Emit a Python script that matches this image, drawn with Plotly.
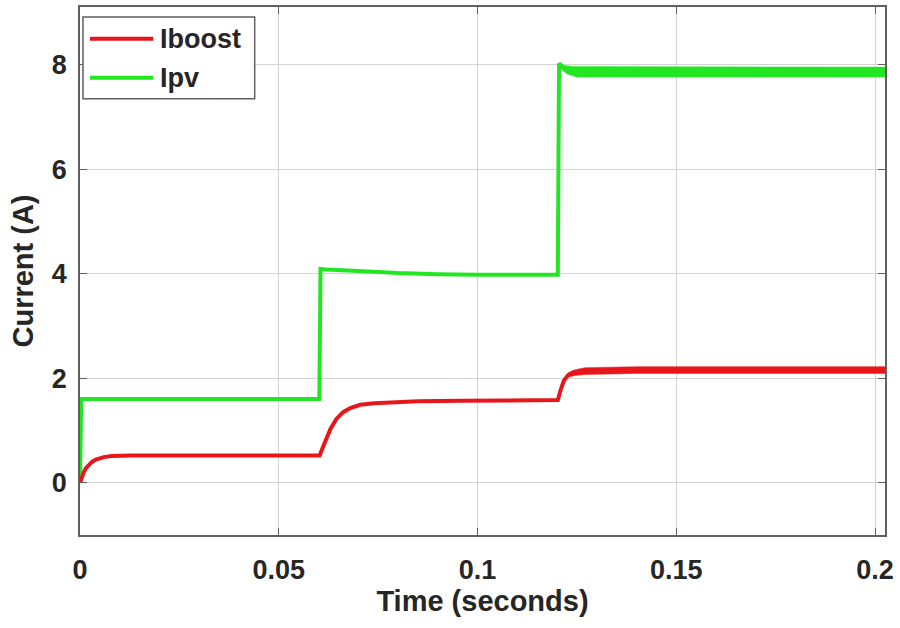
import plotly.graph_objects as go

# ---- data (time in s, current in A) ----
t_pv = [0.0, 0.0003, 0.0006, 0.0300, 0.0602, 0.0605, 0.0620, 0.0700, 0.0800, 0.0900, 0.1000, 0.1202,
        0.1205, 0.1215, 0.1230, 0.1250, 0.1600, 0.2030]
i_pv = [0.0, 1.60, 1.60, 1.60, 1.60, 4.09, 4.08, 4.05, 4.01, 3.99, 3.98, 3.98,
        8.02, 7.95, 7.88, 7.86, 7.86, 7.86]

# switching-ripple envelope of Ipv after the last step (upper edge then lower edge, back)
t_pv_env = [0.1205, 0.1220, 0.1240, 0.1600, 0.2030, 0.2030, 0.1600, 0.1250, 0.1225, 0.1210]
i_pv_env = [8.03, 7.98, 7.96, 7.95, 7.95, 7.76, 7.76, 7.76, 7.82, 7.92]

t_boost = [0.0, 0.0005, 0.0010, 0.0015, 0.0020, 0.0030, 0.0040, 0.0050, 0.0060, 0.0080, 0.0100, 0.0130,
           0.0200, 0.0400, 0.0603, 0.0610, 0.0620, 0.0630, 0.0645, 0.0662, 0.0680, 0.0705, 0.0740,
           0.0780, 0.0850, 0.0960, 0.1100, 0.1202, 0.1208, 0.1217, 0.1228, 0.1240, 0.1260, 0.1300,
           0.1400, 0.2030]
i_boost = [0.0, 0.12, 0.21, 0.28, 0.33, 0.40, 0.44, 0.47, 0.49, 0.51, 0.515, 0.52,
           0.52, 0.52, 0.52, 0.66, 0.86, 1.03, 1.22, 1.35, 1.43, 1.49, 1.52,
           1.54, 1.56, 1.57, 1.57, 1.58, 1.75, 1.95, 2.06, 2.11, 2.13, 2.15,
           2.16, 2.16]

# switching-ripple envelope of Iboost after the last step
t_boost_env = [0.1228, 0.1245, 0.1270, 0.1400, 0.2030, 0.2030, 0.1400, 0.1270, 0.1245, 0.1228]
i_boost_env = [2.10, 2.16, 2.20, 2.22, 2.22, 2.09, 2.09, 2.07, 2.05, 2.02]

x_ticks = [0, 0.05, 0.1, 0.15, 0.2]
x_tick_labels = ["0", "0.05", "0.1", "0.15", "0.2"]
y_ticks = [0, 2, 4, 6, 8]
y_tick_labels = ["0", "2", "4", "6", "8"]
series_names = ["Iboost", "Ipv"]

RED = "#e8161b"
GREEN = "#22e622"
TXT = "#262626"
FRAME = "#606060"
FONT = "Liberation Sans, Arial, sans-serif"

fig = go.Figure()
fig.add_trace(go.Scatter(x=t_pv_env, y=i_pv_env, mode="lines", fill="toself", fillcolor=GREEN,
                         line=dict(color=GREEN, width=0.5), showlegend=False, hoverinfo="skip"))
fig.add_trace(go.Scatter(x=t_pv, y=i_pv, mode="lines", name=series_names[1],
                         line=dict(color=GREEN, width=4), showlegend=False))
fig.add_trace(go.Scatter(x=t_boost_env, y=i_boost_env, mode="lines", fill="toself", fillcolor=RED,
                         line=dict(color=RED, width=0.5), showlegend=False, hoverinfo="skip"))
fig.add_trace(go.Scatter(x=t_boost, y=i_boost, mode="lines", name=series_names[0],
                         line=dict(color=RED, width=4), showlegend=False))

axis_common = dict(
    showgrid=True, gridcolor="#d4d4d4", gridwidth=1,
    zeroline=False, showline=True, linecolor=FRAME, linewidth=1.5,
    mirror="ticks", ticks="inside", ticklen=7, tickcolor=FRAME,
    tickfont=dict(family=FONT, size=27, color=TXT),
)

# hand-built MATLAB-style legend box (paper coords = plot area)
legend_box = dict(type="rect", xref="paper", yref="paper", x0=0.0037, x1=0.217, y0=0.826, y1=0.981,
                  line=dict(color=FRAME, width=1.5), fillcolor="white", layer="above")
legend_y = [0.940, 0.866]
legend_colors = [RED, GREEN]
shapes = [legend_box]
annotations = []
for name, col, yy in zip(series_names, legend_colors, legend_y):
    shapes.append(dict(type="line", xref="paper", yref="paper", x0=0.0124, x1=0.091, y0=yy, y1=yy,
                       line=dict(color=col, width=4), layer="above"))
    annotations.append(dict(xref="paper", yref="paper", x=0.097, y=yy, xanchor="left", yanchor="middle",
                            text="<b>%s</b>" % name, showarrow=False,
                            font=dict(family=FONT, size=27, color=TXT)))

fig.update_layout(
    width=900, height=628,
    margin=dict(l=80, r=15, t=5, b=93),
    paper_bgcolor="white", plot_bgcolor="white",
    font=dict(family=FONT, color=TXT),
    showlegend=False,
    shapes=shapes, annotations=annotations,
    xaxis=dict(range=[0, 0.2025], tickvals=x_ticks, ticktext=["<b>%s</b>" % s for s in x_tick_labels],
               ticklabelstandoff=10,
               title=dict(text="<b>Time (seconds)</b>", font=dict(family=FONT, size=29, color=TXT),
                          standoff=4),
               **axis_common),
    yaxis=dict(range=[-1, 9.1], tickvals=y_ticks, ticktext=["<b>%s</b>" % s for s in y_tick_labels],
               ticklabelstandoff=6,
               title=dict(text="<b>Current (A)</b>", font=dict(family=FONT, size=29, color=TXT),
                          standoff=10),
               **axis_common),
)

fig.write_html("out.html")
